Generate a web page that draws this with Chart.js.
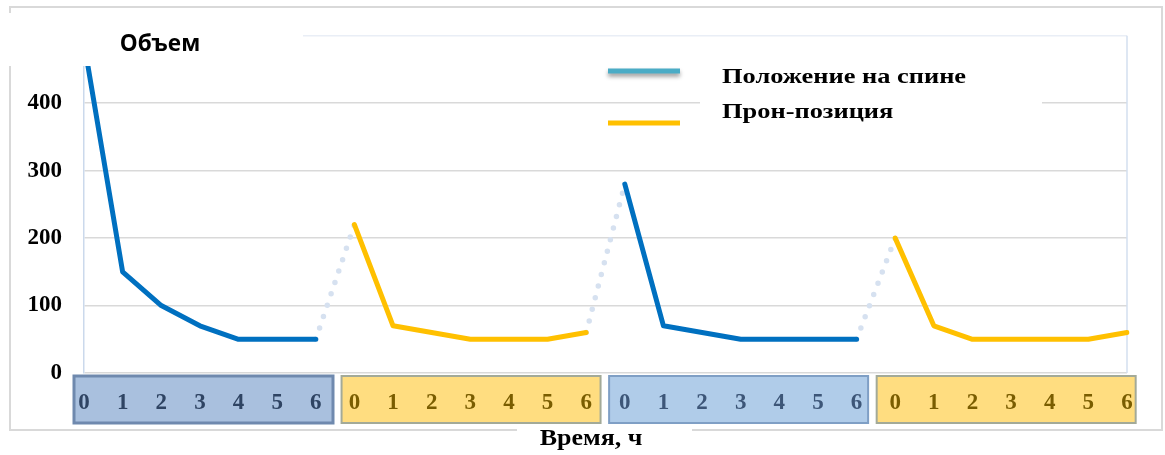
<!DOCTYPE html>
<html><head><meta charset="utf-8">
<script src="https://cdn.jsdelivr.net/npm/chart.js@4.4.1/dist/chart.umd.min.js"></script>
<style>html,body{margin:0;padding:0;background:#fff;}canvas{display:block;}</style>
</head><body>
<canvas id="c" width="1165" height="455"></canvas>
<script>
// ---- data ----
const categories = ['0','1','2','3','4','5','6','0','1','2','3','4','5','6','0','1','2','3','4','5','6','0','1','2','3','4','5','6'];
const supine = [490,150,100,70,50,50,50, null,null,null,null,null,null,null, 280,70,60,50,50,50,50, null,null,null,null,null,null,null];
const prone  = [null,null,null,null,null,null,null, 220,70,60,50,50,50,60, null,null,null,null,null,null,null, 200,70,50,50,50,50,60];
const transition = [null,null,null,null,null,null,50,220,null,null,null,null,null,60,280,null,null,null,null,null,50,200,null,null,null,null,null,null];
const yTickValues = [0,100,200,300,400,500];
const seriesNames = ['Положение на спине', 'Прон-позиция'];
const yTitle = 'Объем';
const xTitle = 'Время, ч';

// ---- styles ----
const groupFill   = ['#a9c0de', '#ffdd80', '#b0cce9', '#ffdd80'];
const groupStroke = ['#6f89ae', '#a3aa98', '#7f9fc5', '#a3aa98'];
const groupStrokeW = [3, 2, 2, 2];
const groupText   = ['#2f4463', '#7a5d00', '#3d5678', '#7a5d00'];
const serif = "'Liberation Serif', 'Times New Roman', serif";

function wideText(c, text, x, y, sx, align) {
  c.save();
  c.translate(x, y); c.scale(sx, 1);
  c.textAlign = align;
  c.fillText(text, 0, 0);
  c.restore();
}

const deco = {
  id: 'deco',
  beforeDraw(chart) {
    const c = chart.ctx; c.save();
    c.fillStyle = '#fff'; c.fillRect(0, 0, chart.width, chart.height);
    c.strokeStyle = '#d9d9d9'; c.lineWidth = 2;
    c.strokeRect(10, 7, 1152, 423);
    c.restore();
  },
  beforeDatasetsDraw(chart) {
    const c = chart.ctx, a = chart.chartArea; c.save();
    c.strokeStyle = '#d3dfef'; c.lineWidth = 1.5;
    c.beginPath(); c.moveTo(a.right, a.top); c.lineTo(a.right, a.bottom); c.stroke();
    c.restore();
  },
  afterDatasetsDraw(chart) {
    const c = chart.ctx, x = chart.scales.x, a = chart.chartArea; c.save();
    for (let g = 0; g < 4; g++) {
      const first = x.getPixelForValue(g * 7);
      const left = first - 10 - 2.85 * g;
      const top = a.bottom + 3, w = 259, h = 47;
      c.fillStyle = groupFill[g]; c.fillRect(left, top, w, h);
      c.strokeStyle = groupStroke[g]; c.lineWidth = groupStrokeW[g];
      c.strokeRect(left, top, w, h);
    }
    c.restore();
  },
  afterDraw(chart) {
    const c = chart.ctx; c.save();
    // title area
    c.fillStyle = '#fff'; c.fillRect(0, 13, 303, 53);
    c.fillStyle = '#000'; c.font = "bold 23px 'Open Sans', sans-serif";
    c.textBaseline = 'alphabetic';
    wideText(c, yTitle, 160, 51, 0.98, 'center');
    // legend
    c.fillStyle = '#fff'; c.fillRect(700, 45, 342, 90);
    c.lineCap = 'butt';
    c.save();
    c.shadowColor = 'rgba(0,0,0,0.4)'; c.shadowBlur = 4; c.shadowOffsetY = 3;
    c.strokeStyle = '#4bacc6'; c.lineWidth = 5;
    c.beginPath(); c.moveTo(608, 71); c.lineTo(680, 71); c.stroke();
    c.restore();
    c.strokeStyle = '#ffc000'; c.lineWidth = 5;
    c.beginPath(); c.moveTo(608, 123); c.lineTo(680, 123); c.stroke();
    c.fillStyle = '#000'; c.font = 'bold 22px ' + serif;
    wideText(c, seriesNames[0], 722, 83, 1.2, 'left');
    wideText(c, seriesNames[1], 722, 118, 1.2, 'left');
    // x title
    c.fillStyle = '#fff'; c.fillRect(517, 425, 175, 10);
    c.fillStyle = '#000'; c.font = 'bold 23px ' + serif;
    wideText(c, xTitle, 591, 445, 1.13, 'center');
    c.restore();
  }
};

new Chart(document.getElementById('c'), {
  type: 'line',
  data: {
    labels: categories,
    datasets: [
      { label: seriesNames[0], data: supine, borderColor: '#0070c0', borderWidth: 5,
        pointRadius: 0, borderCapStyle: 'round', borderJoinStyle: 'round', spanGaps: false, order: 1 },
      { label: seriesNames[1], data: prone, borderColor: '#ffc000', borderWidth: 5,
        pointRadius: 0, borderCapStyle: 'round', borderJoinStyle: 'round', spanGaps: false, order: 1 },
      { label: 'transition', data: transition, borderColor: '#d6e1f0', borderWidth: 5.5,
        borderDash: [0, 12], borderCapStyle: 'round', pointRadius: 0, spanGaps: false, order: 3 }
    ]
  },
  options: {
    responsive: false,
    animation: false,
    events: [],
    layout: { padding: { left: 0, right: 38, top: 35, bottom: 0 } },
    plugins: { legend: { display: false }, tooltip: { enabled: false } },
    scales: {
      x: {
        offset: false,
        grid: { display: false, drawTicks: false },
        border: { display: false },
        ticks: {
          z: 1, padding: 16, autoSkip: false, maxRotation: 0,
          font: { family: serif, size: 23, weight: 'bold' },
          color: (ctx) => groupText[Math.floor(ctx.index / 7)]
        },
        afterFit: (s) => { s.height = 82; }
      },
      y: {
        min: 0, max: 500,
        afterBuildTicks: (s) => { s.ticks = yTickValues.map(v => ({ value: v })); },
        grid: {
          drawTicks: false, lineWidth: 1.5,
          color: (ctx) => ctx.tick && ctx.tick.value === 500 ? '#e9eef6' : '#d9d9d9'
        },
        border: { display: true, color: '#cbd9ec', width: 1.5 },
        ticks: {
          padding: 22, color: '#000',
          font: { family: serif, size: 23, weight: 'bold' }
        },
        afterFit: (s) => { s.width = 84; }
      }
    }
  },
  plugins: [deco]
});
</script>
</body></html>
